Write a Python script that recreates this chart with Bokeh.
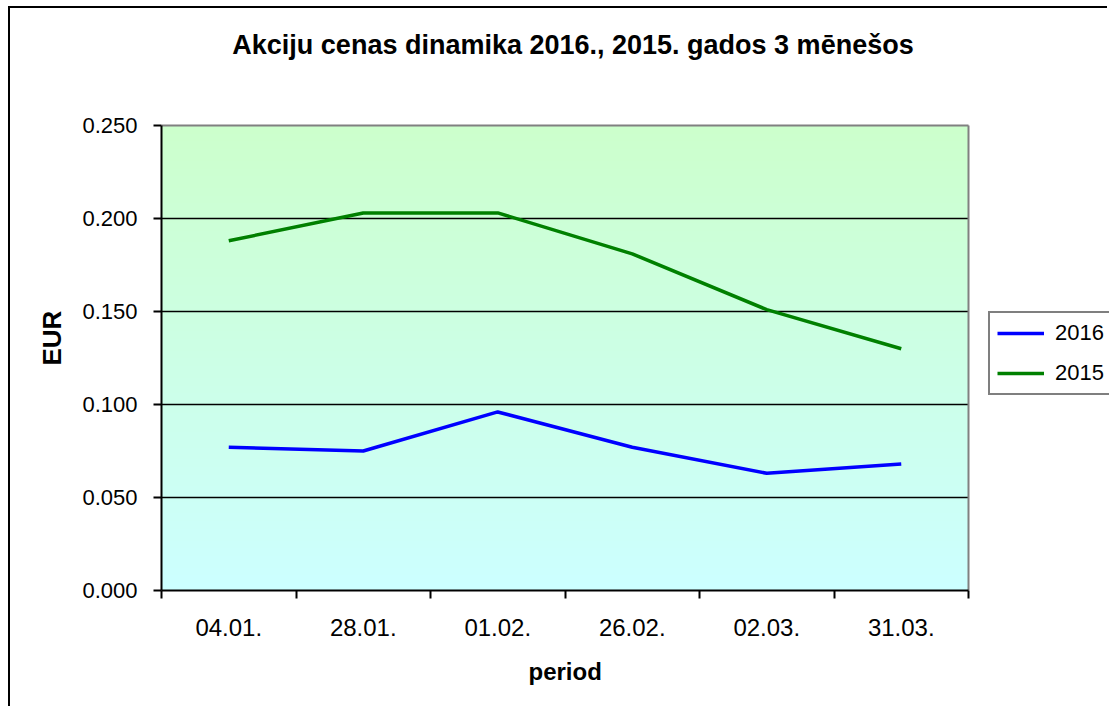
import numpy as np
from bokeh.plotting import figure
from bokeh.models import (FixedTicker, NumeralTickFormatter, Legend, LegendItem,
                          Range1d, Label, Title)
from bokeh.embed import file_html
from bokeh.resources import INLINE

categories = ["04.01.", "28.01.", "01.02.", "26.02.", "02.03.", "31.03."]
series_2016 = [0.077, 0.075, 0.096, 0.077, 0.063, 0.068]
series_2015 = [0.188, 0.203, 0.203, 0.181, 0.151, 0.130]
y_ticks = [0.0, 0.05, 0.10, 0.15, 0.20, 0.25]
title_text = "Akciju cenas dinamika 2016., 2015. gados 3 mēnešos"
x_title = "period"
y_title = "EUR"

FONT = "Liberation Sans"
ncat = len(categories)
ytop = y_ticks[-1]
xpos = [i + 0.5 for i in range(ncat)]

# layout (pixels)
W, H = 1099, 700
LEFT, BOTTOM = 151, 118
PLOT_W, PLOT_H = 807, 465
frame_w = W - LEFT
frame_h = H - BOTTOM
x_end = ncat * frame_w / PLOT_W
y_end = ytop * frame_h / PLOT_H

p = figure(width=W, height=H, output_backend="svg", toolbar_location=None,
           x_range=Range1d(0, x_end), y_range=Range1d(0, y_end),
           min_border_left=LEFT, min_border_right=0, min_border_top=0,
           min_border_bottom=BOTTOM,
           styles={"border-left": "2px solid black", "border-top": "2px solid black",
                   "margin-left": "8px", "margin-top": "6px"})
p.title = None
p.outline_line_color = None
p.xgrid.visible = False
p.ygrid.visible = False

# gradient background in the plot area
n = 120
t = np.linspace(0, 1, n)  # bottom -> top
img = np.empty((n, 1), dtype=np.uint32)
view = img.view(dtype=np.uint8).reshape((n, 1, 4))
view[:, 0, 0] = 204
view[:, 0, 1] = 255
view[:, 0, 2] = np.round(255 - (255 - 204) * t).astype(np.uint8)
view[:, 0, 3] = 255
p.image_rgba(image=[img], x=0, y=0, dw=ncat, dh=ytop, level="image")

# horizontal grid lines inside the plot area
grid_y = y_ticks[1:-1]
p.segment(x0=[0] * len(grid_y), x1=[ncat] * len(grid_y), y0=grid_y, y1=grid_y,
          line_color="black", line_width=1.5)
# plot area border (top, right) in grey
p.segment(x0=[0, ncat], x1=[ncat, ncat], y0=[ytop, 0], y1=[ytop, ytop],
          line_color="#808080", line_width=2)

r16 = p.line(xpos, series_2016, line_color="#0000ff", line_width=3.5)
r15 = p.line(xpos, series_2015, line_color="#008000", line_width=3.5)

# y axis
ya = p.yaxis[0]
ya.bounds = (0, ytop)
ya.ticker = FixedTicker(ticks=y_ticks)
ya.formatter = NumeralTickFormatter(format="0.000")
ya.major_tick_out = 8
ya.major_tick_in = 0
ya.minor_tick_out = 0
ya.minor_tick_in = 0
ya.major_tick_line_width = 2
ya.axis_line_width = 2
ya.major_label_standoff = 16
ya.major_label_text_font = FONT
ya.major_label_text_font_size = "22px"
ya.major_label_text_color = "black"

# x axis
xa = p.xaxis[0]
xa.bounds = (0, ncat)
xa.ticker = FixedTicker(ticks=xpos, minor_ticks=list(range(ncat + 1)))
xa.major_label_overrides = {x: c for x, c in zip(xpos, categories)}
xa.major_tick_out = 0
xa.major_tick_in = 0
xa.minor_tick_out = 8
xa.minor_tick_in = 0
xa.minor_tick_line_width = 2
xa.axis_line_width = 2
xa.major_label_standoff = 20
xa.major_label_text_font = FONT
xa.major_label_text_font_size = "24px"
xa.major_label_text_color = "black"

# axis titles centred on the plot area (not on the wider frame)
p.add_layout(Title(text=x_title, text_font=FONT, text_font_size="24px",
                   text_font_style="bold", text_color="black",
                   align="left", offset=367, vertical_align="top", standoff=38), "below")
p.add_layout(Title(text=y_title, text_font=FONT, text_font_size="26px",
                   text_font_style="bold", text_color="black",
                   align="left", offset=225, vertical_align="bottom", standoff=26), "left")

# chart title
p.add_layout(Label(x=ncat / 2, y=y_end, text=title_text, text_font=FONT,
                   text_font_size="27px", text_font_style="bold", text_color="black",
                   text_align="center", text_baseline="top", x_offset=8, y_offset=-21))

legend = Legend(items=[LegendItem(label="2016", renderers=[r16]),
                       LegendItem(label="2015", renderers=[r15])],
                location=(827, 195), orientation="vertical",
                glyph_width=47, glyph_height=20, label_height=20, spacing=14,
                padding=7, label_standoff=11, margin=0,
                label_text_font=FONT, label_text_font_size="22px",
                label_text_color="black",
                border_line_color="black", border_line_width=2,
                background_fill_color="white", background_fill_alpha=1)
p.add_layout(legend, "center")

open("out.html", "w").write(file_html(p, INLINE))
